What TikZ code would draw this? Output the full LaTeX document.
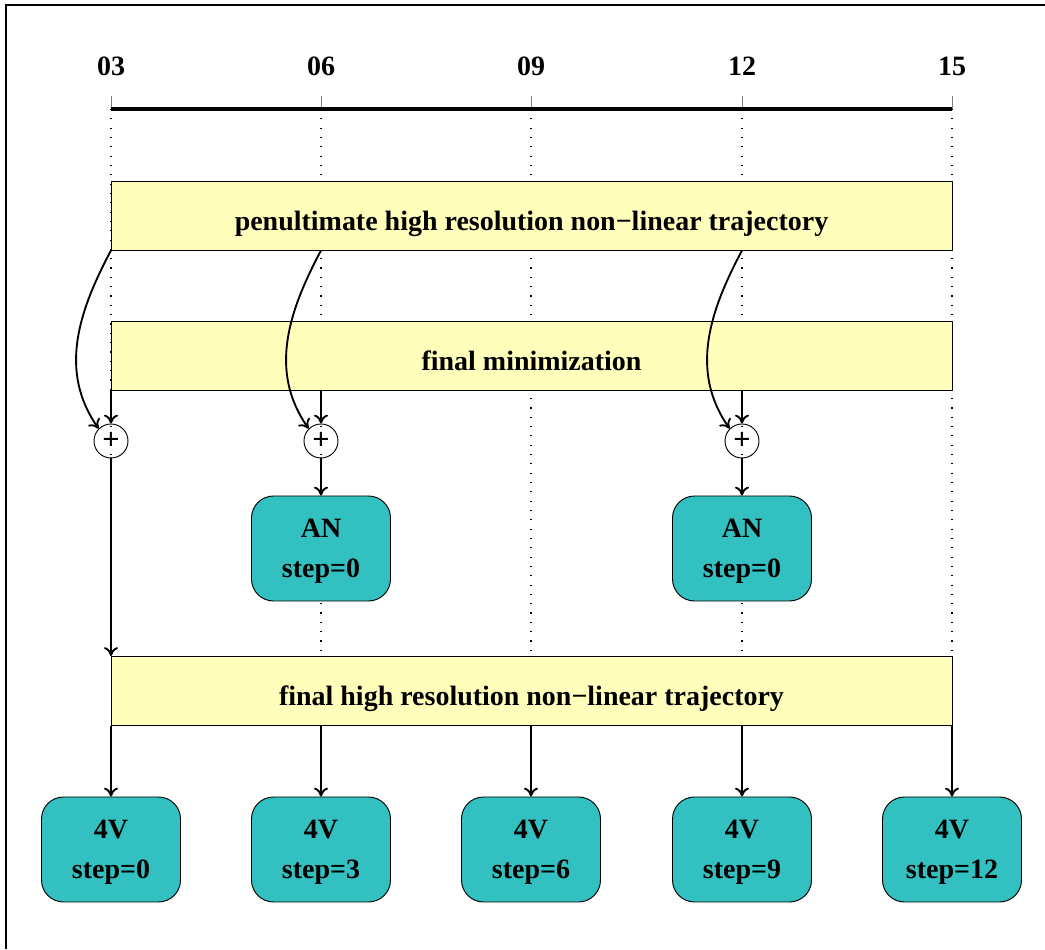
\documentclass[tikz,border=0pt]{standalone}
\usepackage{fontspec}
\setmainfont{Liberation Serif}
\usepackage{xcolor}
\usetikzlibrary{arrows.meta}
\newcommand{\pxl}{0.429pt}
\definecolor{bandyellow}{RGB}{255,255,187}
\definecolor{unitteal}{RGB}{51,192,192}
\tikzset{Band/.style={rectangle,draw,fill=bandyellow,minimum width=841*\pxl,minimum height=69*\pxl,inner sep=0pt,text height=12.5pt,text depth=0pt,font=\bfseries\fontsize{12}{14}\selectfont}}
\tikzset{Unit/.style={rectangle,rounded corners=22*\pxl,draw,fill=unitteal,minimum width=139*\pxl,minimum height=105*\pxl,inner sep=0pt,align=center,text depth=0pt,font=\bfseries\fontsize{12}{17}\selectfont}}
\tikzset{Sum/.style={circle,draw,minimum size=34*\pxl,inner sep=0pt,font=\bfseries\fontsize{13}{14}\selectfont}}
\tikzset{Tick/.style={font=\bfseries\fontsize{12}{14}\selectfont}}
\tikzset{Flow/.style={thick,-{To[length=3.8pt,width=6pt]}}}

\begin{document}
\begin{tikzpicture}[x=\pxl,y=\pxl]
    \useasboundingbox (0,0) rectangle (1045,949);
    \draw[line width=2*\pxl] (6,0) -- (6,944) -- (1045,944);
    % time axis
    \node[Tick] (t03) at (111,883) {03};
    \node[Tick] (t06) at (321,883) {06};
    \node[Tick] (t09) at (531,883) {09};
    \node[Tick] (t12) at (742,883) {12};
    \node[Tick] (t15) at (952,883) {15};
    \coordinate (a03) at (111,840);
    \coordinate (a06) at (321,840);
    \coordinate (a09) at (531,840);
    \coordinate (a12) at (742,840);
    \coordinate (a15) at (952,840);
    \begin{scope}[gray,line width=1*\pxl]
      \draw (a03) -- ++(0,13);
      \draw (a06) -- ++(0,13);
      \draw (a09) -- ++(0,13);
      \draw (a12) -- ++(0,13);
      \draw (a15) -- ++(0,13);
    \end{scope}
    \draw[line width=4*\pxl] (a03) -- (a15);
    \begin{scope}[line width=0.5pt,dash pattern=on 0.5pt off 3.5pt]
      \draw (a03) -- ++(0,-547);
      \draw (a06) -- ++(0,-547);
      \draw (a09) -- ++(0,-547);
      \draw (a12) -- ++(0,-547);
      \draw (a15) -- ++(0,-547);
    \end{scope}
    % bands
    \node[Band] (pen) at (531.5,733.5) {penultimate high resolution non−linear trajectory};
    \node[Band] (fmin) at (531.5,593.5) {final minimization};
    \node[Band] (fin) at (531.5,258) {final high resolution non−linear trajectory};
    % sums and analyses
    \node[Sum] (s03) at (111,508) {+};
    \node[Sum] (s06) at (321,508) {+};
    \node[Sum] (s12) at (742,508) {+};
    \node[Unit] (an06) at (321,400.5) {AN\\step=0};
    \node[Unit] (an12) at (742,400.5) {AN\\step=0};
    % forecasts
    \node[Unit] (v03) at (111,99.5) {4V\\step=0};
    \node[Unit] (v06) at (321,99.5) {4V\\step=3};
    \node[Unit] (v09) at (531,99.5) {4V\\step=6};
    \node[Unit] (v12) at (742,99.5) {4V\\step=9};
    \node[Unit] (v15) at (952,99.5) {4V\\step=12};
    \begin{scope}[Flow]
      \draw (pen.south -| t03) to[out=-118,in=125] (s03.135);
      \draw (pen.south -| t06) to[out=-118,in=125] (s06.135);
      \draw (pen.south -| t12) to[out=-118,in=125] (s12.135);
      \draw (fmin.south -| s03) -- (s03);
      \draw (fmin.south -| s06) -- (s06);
      \draw (fmin.south -| s12) -- (s12);
      \draw (s06) -- (an06);
      \draw (s12) -- (an12);
      \draw (s03) -- (s03 |- fin.north);
      \draw (fin.south -| v03) -- (v03);
      \draw (fin.south -| v06) -- (v06);
      \draw (fin.south -| v09) -- (v09);
      \draw (fin.south -| v12) -- (v12);
      \draw (fin.south -| v15) -- (v15);
    \end{scope}
  \end{tikzpicture}
\end{document}
